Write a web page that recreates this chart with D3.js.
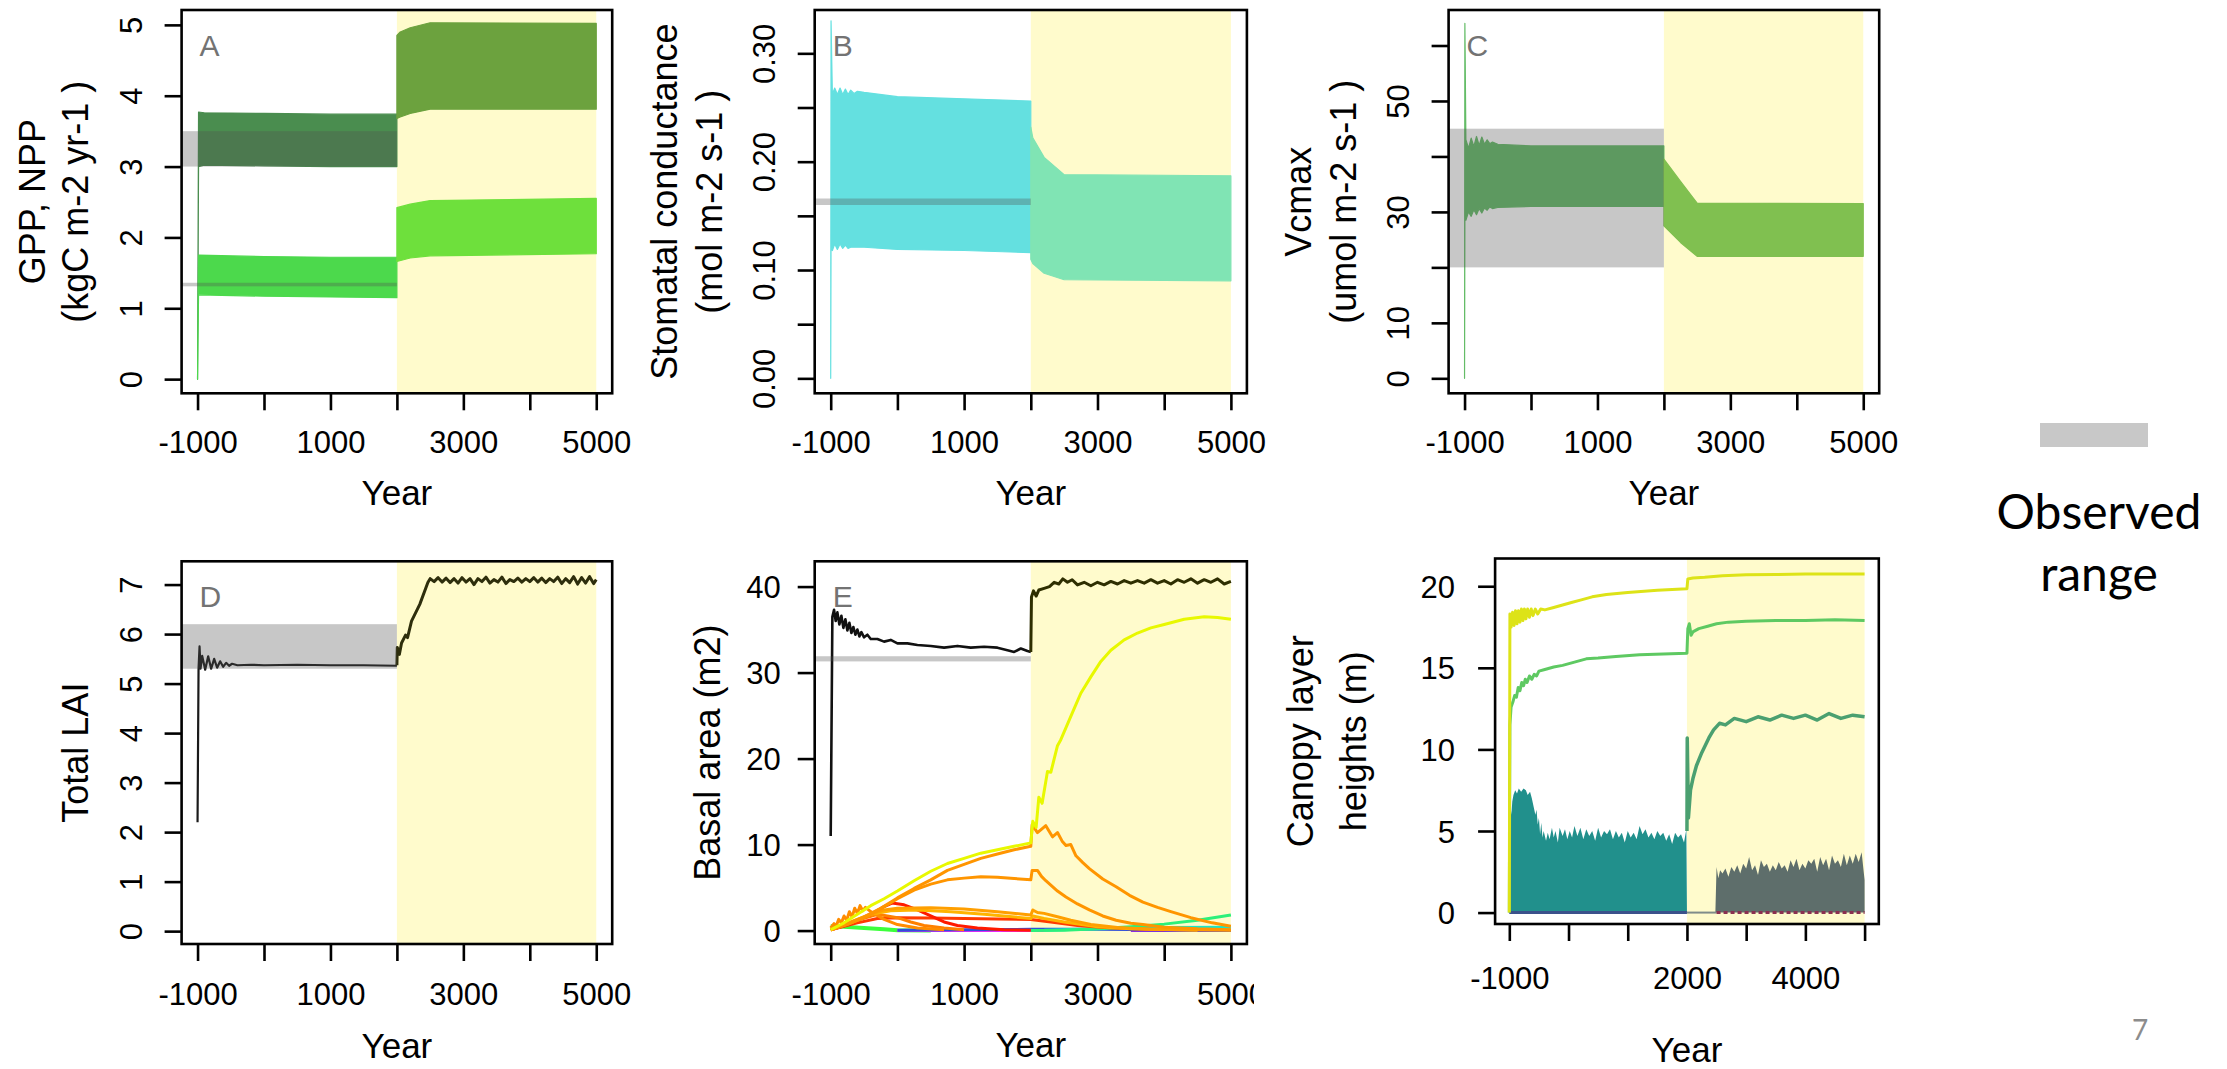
<!DOCTYPE html>
<html>
<head>
<meta charset="utf-8">
<script src="https://cdn.jsdelivr.net/npm/d3@7"></script>
<style>
  body { margin: 0; background: #fff; }
  svg { display: block; }
</style>
</head>
<body>
<div id="chart"></div>
<script>

// ---- data: [year, low, high] envelopes of the oscillating series ----
var gppPre = [[-1000,0,0],[-985,3.0,3.77],[-900,3.02,3.76],[0,3.01,3.75],[1000,3.0,3.74],[2000,3.0,3.74]];
var gppPost = [[2000,3.68,4.85],[2050,3.7,4.9],[2200,3.75,4.96],[2500,3.81,5.03],[5000,3.81,5.02]];
var nppPre = [[-1000,0,0],[-985,1.19,1.75],[0,1.17,1.73],[1000,1.16,1.72],[2000,1.15,1.72]];
var nppPost = [[2000,1.66,2.42],[2200,1.71,2.47],[2500,1.74,2.52],[5000,1.77,2.55]];
var gppObs = [3.0, 3.5];
var nppObs = [1.31, 1.36];

var gsPre = [[-1000,0,0],[-995,0.12,0.33],[-975,0.118,0.262],[-940,0.124,0.268],[-900,0.119,0.262],
  [-860,0.124,0.268],[-820,0.12,0.262],[-780,0.123,0.267],[-740,0.12,0.262],[-700,0.121,0.266],
  [-650,0.121,0.263],[-600,0.121,0.265],[-500,0.121,0.264],[0,0.119,0.26],[1000,0.118,0.258],[2000,0.116,0.256]];
var gsPost = [[2000,0.11,0.232],[2030,0.106,0.222],[2200,0.097,0.204],[2500,0.091,0.188],[5000,0.09,0.187]];
var gsObs = [0.160, 0.166];

var vcPre = [[-1000,0,0],[-995,29,64],[-980,28.5,43.0],[-940,30.0,41.5],[-900,29.2,43.3],[-860,30.4,41.8],
  [-820,29.5,43.6],[-780,30.6,42.0],[-740,29.8,43.5],[-700,30.7,42.2],[-660,30.3,43.0],[-620,30.9,42.3],
  [-580,30.6,42.6],[-500,30.8,42.2],[0,31.0,41.9],[1000,31.0,41.9],[2000,31.0,41.9]];
var vcPost = [[2000,27.5,39.5],[2250,24.5,35.5],[2500,22.0,31.6],[5000,22.0,31.5]];
var vcObs = [20, 45];

// ---- data: [year, value] lines ----
var laiPre = [[-1000,2.2],[-985,5.3],[-970,5.75],[-955,5.3],[-930,5.56],[-885,5.28],[-840,5.55],[-795,5.3],
  [-750,5.5],[-705,5.32],[-660,5.45],[-615,5.34],[-570,5.42],[-525,5.36],[-480,5.4],[-400,5.37],[-200,5.38],
  [0,5.37],[500,5.38],[1000,5.37],[1500,5.37],[2000,5.36]];
var laiPost = [[2000,5.37],[2006,5.73],[2037,5.59],[2070,5.82],[2130,5.98],[2160,5.93],[2220,6.26],[2344,6.6],
  [2466,7.04],[2500,7.12],[2560,7.06],[2620,7.14],[2680,7.05],[2740,7.13],[2800,7.04],[2860,7.12],[2920,7.03],
  [2980,7.14],[3040,7.05],[3100,7.12],[3160,7.0],[3220,7.12],[3280,7.06],[3340,7.15],[3400,7.03],[3460,7.1],
  [3520,7.05],[3580,7.15],[3640,7.02],[3700,7.1],[3760,7.06],[3820,7.13],[3880,7.05],[3940,7.12],[4000,7.06],
  [4060,7.14],[4120,7.05],[4180,7.13],[4240,7.04],[4300,7.12],[4360,7.06],[4420,7.15],[4480,7.02],[4540,7.12],
  [4600,7.04],[4660,7.16],[4720,7.01],[4780,7.14],[4840,7.03],[4900,7.16],[4960,7.02],[5000,7.1]];
var laiObs = [5.3, 6.2];

var baTotalPre = [[-1000,11],[-975,36.5],[-950,37.3],[-925,36.0],[-900,37.0],[-870,35.6],[-840,36.6],[-810,35.2],
  [-780,36.2],[-750,34.9],[-720,35.8],[-690,34.6],[-660,35.3],[-630,34.4],[-600,35.0],[-570,34.2],[-540,34.7],
  [-500,34.1],[-450,34.4],[-400,33.9],[-300,33.9],[-200,33.6],[-100,33.8],[0,33.4],[150,33.4],[300,33.2],
  [500,33.1],[700,32.9],[900,33.1],[1100,32.9],[1300,33.0],[1500,32.9],[1650,32.6],[1750,32.4],[1850,32.8],
  [1950,32.5],[2000,32.4]];
var baTotalPost = [[2000,32.4],[2010,38.8],[2040,39.5],[2080,38.9],[2120,39.6],[2200,39.8],[2280,40.0],[2350,40.5],
  [2420,40.3],[2480,40.9],[2550,40.5],[2620,40.8],[2700,40.2],[2800,40.5],[2900,40.1],[3000,40.5],[3100,40.2],
  [3200,40.6],[3300,40.3],[3400,40.7],[3500,40.4],[3600,40.7],[3700,40.4],[3800,40.8],[3900,40.4],[4000,40.7],
  [4100,40.3],[4200,40.8],[4300,40.5],[4400,40.9],[4500,40.4],[4600,40.8],[4700,40.5],[4800,40.9],[4900,40.3],
  [5000,40.6]];
var baObs = [31.3, 31.9];
var baYellow = [[-1000,0.1],[-800,0.9],[-600,1.9],[-400,2.9],[-200,3.7],[0,4.6],[250,5.8],[500,6.9],[750,7.8],
  [1000,8.4],[1250,9.0],[1500,9.4],[1750,9.8],[2000,10.2],[2030,12.7],[2080,12.0],[2120,15.5],[2170,14.8],
  [2250,18.5],[2300,18.4],[2400,21.5],[2450,22.2],[2550,24.0],[2650,25.8],[2750,27.6],[2900,29.5],[3050,31.3],
  [3200,32.6],[3400,33.8],[3600,34.6],[3800,35.2],[4000,35.6],[4300,36.2],[4600,36.5],[4800,36.4],[5000,36.2]];
var baOrange1 = [[-1000,0.1],[-750,0.8],[-500,1.6],[-250,2.6],[0,3.8],[250,4.9],[500,5.9],[750,7.0],[1000,7.7],
  [1250,8.4],[1500,8.9],[1750,9.4],[2000,9.8],[2020,12.3],[2100,11.4],[2225,12.2],[2325,10.9],[2400,11.4],
  [2470,10.4],[2527,9.9],[2600,10.0],[2677,8.7],[2780,7.9],[2878,7.2],[3079,6.0],[3279,5.1],[3480,4.1],
  [3681,3.3],[3900,2.7],[4100,2.2],[4400,1.5],[4720,0.9],[5000,0.5]];
var baOrange2 = [[-1000,0.1],[-750,0.7],[-500,1.5],[-250,2.5],[0,3.7],[250,4.7],[500,5.4],[750,5.9],[1000,6.1],
  [1250,6.25],[1500,6.2],[1750,6.05],[2000,5.9],[2020,7.0],[2100,7.0],[2160,6.3],[2225,5.8],[2400,4.6],
  [2527,3.9],[2700,3.1],[2878,2.4],[3079,1.7],[3279,1.2],[3500,0.85],[3681,0.7],[4000,0.4],[4500,0.2],[5000,0.1]];
var baOrange3 = [[-1000,0.1],[-700,0.9],[-400,1.9],[-200,2.4],[0,2.6],[500,2.65],[1000,2.5],[1500,2.2],[2000,1.8],
  [2030,2.4],[2100,2.1],[2200,2.0],[2400,1.6],[2600,1.2],[2900,0.7],[3300,0.35],[3800,0.15],[5000,0.05]];
var baOrange4 = [[-1000,0.1],[-700,1.0],[-400,1.9],[-100,2.3],[300,2.4],[800,2.2],[1300,1.9],[2000,1.4],
  [2030,1.7],[2200,1.4],[2500,1.0],[3000,0.45],[3500,0.2],[4500,0.05]];
var baOrange5 = [[-1000,0.3],[-950,0.8],[-920,0.5],[-880,1.3],[-840,0.9],[-800,1.7],[-760,1.2],[-720,2.2],
  [-680,1.6],[-640,2.6],[-600,2.0],[-560,2.9],[-520,2.3],[-480,2.7],[-400,2.2],[-200,1.3],[0,0.7],[300,0.3],[700,0.1]];
var baOrange6 = [[-1000,0.1],[-600,1.2],[-300,1.9],[0,1.5],[200,1.0],[400,0.6],[700,0.3],[1000,0.1]];
var baRed1 = [[-1000,0.1],[-700,0.8],[-400,1.9],[-200,2.8],[-80,3.2],[100,3.0],[300,2.4],[500,1.7],[700,1.0],
  [900,0.6],[1200,0.3],[1600,0.1],[2000,0.05]];
var baRed2 = [[-1000,0.1],[-600,0.9],[-300,1.4],[0,1.5],[500,1.45],[1000,1.4],[1500,1.35],[2000,1.3],
  [2300,1.0],[2700,0.6],[3200,0.3],[4000,0.1]];
var baGreenEarly = [[-1000,0.5],[-800,0.45],[-500,0.3],[-200,0.15],[0,0.05],[500,0.0]];
var baGreenLate = [[2000,0.0],[2500,0.05],[3000,0.2],[3500,0.45],[4000,0.75],[4500,1.2],[5000,1.8]];
var baCyan = [[2200,0.05],[3000,0.2],[4000,0.35],[5000,0.4]];
var baBlue = [[0,0.05],[1000,0.1],[2000,0.15],[3000,0.15],[4000,0.1],[5000,0.05]];
var baMagenta = [[0,0.02],[2200,0.02]];
var baPurple = [[3500,0.02],[5000,0.02]];

var hYellow = [[-1000,0],[-990,18.3],[-970,17.5],[-945,18.4],[-920,17.6],[-895,18.5],[-870,17.7],[-845,18.5],
  [-820,17.8],[-795,18.6],[-770,17.9],[-745,18.6],[-720,18.0],[-690,18.6],[-660,18.1],[-630,18.6],[-600,18.2],
  [-560,18.6],[-520,18.3],[-470,18.6],[-400,18.55],[-250,18.7],[-100,18.85],[50,19.0],[200,19.15],[400,19.35],
  [640,19.5],[1000,19.62],[1500,19.75],[2000,19.85],[2015,20.45],[2100,20.5],[2300,20.55],[2600,20.65],
  [3000,20.7],[3500,20.72],[4000,20.75],[5000,20.75]];
var hGreen = [[-1000,0],[-990,11.5],[-970,12.6],[-940,12.9],[-910,13.3],[-880,13.2],[-850,13.8],[-820,13.6],
  [-790,14.1],[-760,13.9],[-730,14.3],[-700,14.1],[-660,14.5],[-620,14.3],[-580,14.6],[-540,14.5],[-500,14.8],
  [-400,14.9],[-250,15.05],[-100,15.15],[100,15.35],[300,15.55],[500,15.6],[800,15.7],[1200,15.8],[1600,15.85],
  [2000,15.9],[2015,17.4],[2040,17.7],[2070,17.0],[2100,17.2],[2200,17.4],[2350,17.55],[2500,17.7],[2700,17.8],
  [3000,17.85],[3500,17.9],[4000,17.9],[4500,17.95],[5000,17.9]];
var hMid = [[2000,5.0],[2005,10.7],[2025,5.8],[2060,7.5],[2100,8.2],[2160,9.0],[2250,9.8],[2370,10.7],[2450,11.2],
  [2550,11.6],[2650,11.5],[2800,11.9],[3000,11.7],[3200,12.0],[3400,11.8],[3600,12.1],[3800,11.9],[4000,12.1],
  [4200,11.8],[4400,12.2],[4600,11.9],[4800,12.1],[5000,12.0]];
var hLowPre = [[-1000,0],[-995,6.8],[-975,6.4],[-965,6.0],[-950,6.8],[-930,7.2],[-900,7.5],[-870,7.3],[-840,7.6],
  [-800,7.4],[-760,7.6],[-720,7.5],[-690,7.2],[-650,7.4],[-620,7.0],[-590,6.5],[-560,6.0],[-540,6.3],[-520,5.4],
  [-500,5.8],[-480,4.8],[-460,5.5],[-440,4.6],[-420,5.0],[-380,4.4],[-350,4.9],[-320,4.5],[-280,5.2],[-250,4.6],
  [-220,5.0],[-180,4.3],[-150,5.2],[-100,4.7],[-60,5.1],[-20,4.5],[20,5.0],[60,4.6],[100,5.3],[150,4.7],[200,5.2],
  [250,4.5],[300,5.1],[350,4.7],[400,5.0],[450,4.4],[500,5.2],[550,4.6],[600,5.0],[650,4.8],[700,5.1],[750,4.5],
  [800,5.0],[850,4.6],[900,4.9],[950,4.3],[1000,5.0],[1050,4.6],[1100,4.9],[1150,4.5],[1200,5.3],[1250,4.8],
  [1300,5.1],[1350,4.6],[1400,4.9],[1450,4.5],[1500,5.0],[1550,4.7],[1600,4.9],[1650,4.4],[1700,4.8],[1750,4.2],
  [1800,4.9],[1850,4.6],[1900,4.8],[1950,4.3],[1990,5.1],[2000,0]];
var hLowPost = [[2480,0],[2500,2.8],[2530,2.1],[2560,2.6],[2600,2.4],[2650,2.7],[2700,2.2],[2750,2.8],[2800,2.5],
  [2850,2.9],[2900,2.4],[2950,3.0],[3000,2.7],[3050,3.4],[3100,2.6],[3150,2.9],[3200,2.3],[3250,3.2],[3300,2.8],
  [3350,3.0],[3400,2.5],[3450,2.9],[3500,2.6],[3550,3.1],[3600,2.7],[3650,2.9],[3700,2.5],[3750,3.2],[3800,2.8],
  [3850,3.3],[3900,2.6],[3950,3.0],[4000,2.7],[4050,3.2],[4100,3.0],[4150,3.3],[4200,2.5],[4250,3.4],[4300,2.9],
  [4350,3.3],[4400,2.6],[4450,3.5],[4500,3.0],[4550,3.2],[4600,2.8],[4650,3.6],[4700,2.9],[4750,3.5],[4800,3.0],
  [4850,3.6],[4900,3.1],[4950,3.7],[5000,2.0],[5001,0]];
var hZeroPre = [[-1000,0],[2000,0]];
var hZeroMid = [[2000,0],[2500,0]];
var hZeroPost = [[2500,0],[5000,0]];

// ---- axis ticks ----
var xTicks = [-1000, 0, 1000, 2000, 3000, 4000, 5000];
var xLabels = [-1000, 1000, 3000, 5000];
var xLabelsF = [-1000, 2000, 4000];
var warmPeriod = [2000, 5000];

var font = "'Liberation Sans', Arial, Helvetica, sans-serif";
var svg = d3.select("#chart").append("svg").attr("width", 2227).attr("height", 1069);

function makePanel(p) {
  var g = svg.append("g");
  if (p.clipRight) {
    svg.append("clipPath").attr("id", "outer" + p.id).append("rect")
      .attr("x", 0).attr("y", 0).attr("width", p.clipRight).attr("height", 1069);
    g.attr("clip-path", "url(#outer" + p.id + ")");
  }
  var x = d3.scaleLinear().domain([-1240, 5240]).range([p.left, p.right]);
  var y = d3.scaleLinear().domain(p.yDomain).range([p.bottom, p.top]);
  svg.append("clipPath").attr("id", "clip" + p.id).append("rect")
    .attr("x", p.left).attr("y", p.top).attr("width", p.right - p.left).attr("height", p.bottom - p.top);
  var plot = g.append("g").attr("clip-path", "url(#clip" + p.id + ")");
  plot.append("rect")
    .attr("x", x(warmPeriod[0])).attr("width", x(warmPeriod[1]) - x(warmPeriod[0]))
    .attr("y", p.top).attr("height", p.bottom - p.top)
    .attr("fill", "#fffbcc");
  return { p: p, g: g, plot: plot, x: x, y: y };
}

function band(pn, data, color) {
  var area = d3.area().x(d => pn.x(d[0])).y0(d => pn.y(d[1])).y1(d => pn.y(d[2]));
  pn.plot.append("path").datum(data).attr("d", area)
    .attr("fill", color).attr("stroke", color).attr("stroke-width", 1.2).attr("stroke-linejoin", "round");
}

function fillTo0(pn, data, color) {
  var area = d3.area().x(d => pn.x(d[0])).y0(pn.y(0)).y1(d => pn.y(d[1]));
  pn.plot.append("path").datum(data).attr("d", area).attr("fill", color);
}

function line(pn, data, color, w, dash) {
  var ln = d3.line().x(d => pn.x(d[0])).y(d => pn.y(d[1]));
  pn.plot.append("path").datum(data).attr("d", ln)
    .attr("fill", "none").attr("stroke", color).attr("stroke-width", w || 3)
    .attr("stroke-linejoin", "round").attr("stroke-dasharray", dash || null);
}

function obs(pn, range) {
  pn.plot.append("rect")
    .attr("x", pn.p.left).attr("width", pn.x(2000) - pn.p.left)
    .attr("y", pn.y(range[1])).attr("height", pn.y(range[0]) - pn.y(range[1]))
    .attr("fill", "rgb(81,81,81)").attr("fill-opacity", 0.32);
}

function finish(pn, o) {
  var p = pn.p, g = pn.g;
  g.append("rect").attr("x", p.left).attr("y", p.top)
    .attr("width", p.right - p.left).attr("height", p.bottom - p.top)
    .attr("fill", "none").attr("stroke", "#000").attr("stroke-width", 2.6);

  var labs = o.xLabels || xLabels;
  var xa = g.append("g").attr("transform", `translate(0,${p.bottom})`)
    .call(d3.axisBottom(pn.x).tickValues(xTicks).tickSize(17).tickSizeOuter(0)
      .tickFormat(d => labs.indexOf(d) >= 0 ? String(d) : ""));
  xa.select(".domain").remove();
  xa.selectAll("line").attr("stroke", "#000").attr("stroke-width", 2.6);
  xa.selectAll("text").attr("y", o.xLabelY || 60).attr("dy", null)
    .attr("font-family", font).attr("font-size", 31).attr("fill", "#000");

  var ya = g.append("g").attr("transform", `translate(${p.left},0)`)
    .call(d3.axisLeft(pn.y).tickValues(o.yTicks).tickSize(17).tickSizeOuter(0)
      .tickFormat(d => o.yLabels.indexOf(d) >= 0 ? o.yFormat(d) : ""));
  ya.select(".domain").remove();
  ya.selectAll("line").attr("stroke", "#000").attr("stroke-width", 2.6);
  var yt = ya.selectAll("text").attr("font-family", font).attr("font-size", 31).attr("fill", "#000");
  if (o.flatY) {
    yt.attr("x", o.yLabelX).attr("dy", "0.36em").attr("text-anchor", "end");
  } else {
    yt.attr("x", 0).attr("dy", null).attr("text-anchor", "middle")
      .attr("transform", `translate(${o.yLabelX},0) rotate(-90)`);
  }

  var cy = (p.top + p.bottom) / 2;
  o.yTitle.forEach(function(t, i) {
    g.append("text")
      .attr("transform", `translate(${p.left + o.yTitleX[i]},${cy}) rotate(-90)`)
      .attr("text-anchor", "middle").attr("font-family", font).attr("font-size", 36)
      .text(t);
  });

  g.append("text").attr("x", (p.left + p.right) / 2).attr("y", p.bottom + (o.yearY || 112))
    .attr("text-anchor", "middle").attr("font-family", font).attr("font-size", 35)
    .text("Year");

  if (o.letter) {
    g.append("text").attr("x", p.left + 18).attr("y", p.top + 46)
      .attr("font-family", font).attr("font-size", 30).attr("fill", "#737373")
      .text(o.letter);
  }
}

// ---- A: GPP / NPP ----
var A = makePanel({ id: "A", left: 181.6, right: 612.2, top: 10, bottom: 393.3, yDomain: [-0.2, 5.21] });
band(A, gppPre, "#4a8d4f");
band(A, gppPost, "#6ca23e");
band(A, nppPre, "#4cd94c");
band(A, nppPost, "#6ee03c");
obs(A, gppObs);
obs(A, nppObs);
finish(A, { letter: "A", yTicks: [0,1,2,3,4,5], yLabels: [0,1,2,3,4,5], yFormat: String,
  yLabelX: -40, yTitle: ["GPP, NPP", "(kgC m-2 yr-1 )"], yTitleX: [-137, -94] });

// ---- B: stomatal conductance ----
var B = makePanel({ id: "B", left: 814.7, right: 1246.9, top: 10, bottom: 393.3, yDomain: [-0.0138, 0.34] });
band(B, gsPre, "#64e0e0");
band(B, gsPost, "#80e4b4");
obs(B, gsObs);
finish(B, { letter: "B", yTicks: [0,0.05,0.1,0.15,0.2,0.25,0.3], yLabels: [0,0.1,0.2,0.3],
  yFormat: d => d.toFixed(2), yLabelX: -40,
  yTitle: ["Stomatal conductance", "(mol m-2 s-1 )"], yTitleX: [-138, -93] });

// ---- C: Vcmax ----
var C = makePanel({ id: "C", left: 1448.6, right: 1879.2, top: 10, bottom: 393.3, yDomain: [-2.7, 66.4] });
band(C, vcPre, "#64bc67");
band(C, vcPost, "#80c050");
obs(C, vcObs);
finish(C, { letter: "C", yTicks: [0,10,20,30,40,50,60], yLabels: [0,10,30,50], yFormat: String,
  yLabelX: -40, yTitle: ["Vcmax", "(umol m-2 s-1 )"], yTitleX: [-138, -93] });

// ---- D: total LAI ----
var D = makePanel({ id: "D", left: 181.6, right: 612.2, top: 561.3, bottom: 944, yDomain: [-0.26, 7.47] });
line(D, laiPre, "#1a1a1a", 2.2);
line(D, laiPost, "#2e2e0c", 3);
obs(D, laiObs);
finish(D, { letter: "D", yTicks: [0,1,2,3,4,5,6,7], yLabels: [0,1,2,3,4,5,6,7], yFormat: String,
  yLabelX: -40, yTitle: ["Total LAI"], yTitleX: [-94], xLabelY: 61, yearY: 114 });

// ---- E: basal area ----
var E = makePanel({ id: "E", left: 814.7, right: 1246.9, top: 561.3, bottom: 944, yDomain: [-1.56, 42.94], clipRight: 1254 });
line(E, baGreenEarly, "#3cff3c", 4);
line(E, baPurple, "#8a2be2", 3);
line(E, baMagenta, "#ff22ff", 3);
line(E, baBlue, "#2f50d8", 3);
line(E, baCyan, "#19e6c8", 3);
line(E, baGreenLate, "#2cf07a", 3);
line(E, baRed2, "#ff3a00", 3);
line(E, baRed1, "#ff1a00", 3);
line(E, baOrange6, "#ff8000", 3);
line(E, baOrange5, "#ff8c00", 3);
line(E, baOrange4, "#ffb400", 3);
line(E, baOrange3, "#ff9f00", 3);
line(E, baOrange2, "#ff9500", 3);
line(E, baOrange1, "#ff9500", 3);
line(E, baYellow, "#e8f800", 3);
line(E, baTotalPre, "#111111", 2.6);
line(E, baTotalPost, "#2e2e00", 3);
obs(E, baObs);
finish(E, { letter: "E", yTicks: [0,10,20,30,40], yLabels: [0,10,20,30,40], yFormat: String,
  flatY: true, yLabelX: -34, yTitle: ["Basal area (m2)"], yTitleX: [-95], xLabelY: 61, yearY: 113 });

// ---- F: canopy layer heights ----
var F = makePanel({ id: "F", left: 1495.1, right: 1878.8, top: 558.5, bottom: 924, yDomain: [-0.7, 21.7] });
fillTo0(F, hLowPre, "#21908c");
fillTo0(F, hLowPost, "#5e6e6b");
line(F, hZeroPre, "#3b528b", 3);
line(F, hZeroMid, "#7f8c8a", 2);
line(F, hZeroPost, "#8a3050", 3, "4,3");
line(F, hMid, "#4ba070", 3.5);
line(F, hGreen, "#5ec962", 3);
line(F, hYellow, "#dde318", 3);
finish(F, { xLabels: xLabelsF, yTicks: [0,5,10,15,20], yLabels: [0,5,10,15,20], yFormat: String,
  flatY: true, yLabelX: -40, yTitle: ["Canopy layer", "heights (m)"], yTitleX: [-182, -129],
  xLabelY: 65, yearY: 138 });

// ---- legend and page number ----
svg.append("rect").attr("x", 2040).attr("y", 423).attr("width", 108).attr("height", 24).attr("fill", "#c8c8c8");
svg.append("text").attr("x", 2099).attr("y", 529).attr("text-anchor", "middle")
  .attr("font-family", "Lato, 'Open Sans', sans-serif").attr("font-size", 48).text("Observed");
svg.append("text").attr("x", 2099).attr("y", 591).attr("text-anchor", "middle")
  .attr("font-family", "Lato, 'Open Sans', sans-serif").attr("font-size", 48).text("range");
svg.append("text").attr("x", 2140).attr("y", 1040).attr("text-anchor", "middle")
  .attr("font-family", "Lato, 'Open Sans', sans-serif").attr("font-size", 28).attr("fill", "#8c8c8c").text("7");

</script>
</body>
</html>
